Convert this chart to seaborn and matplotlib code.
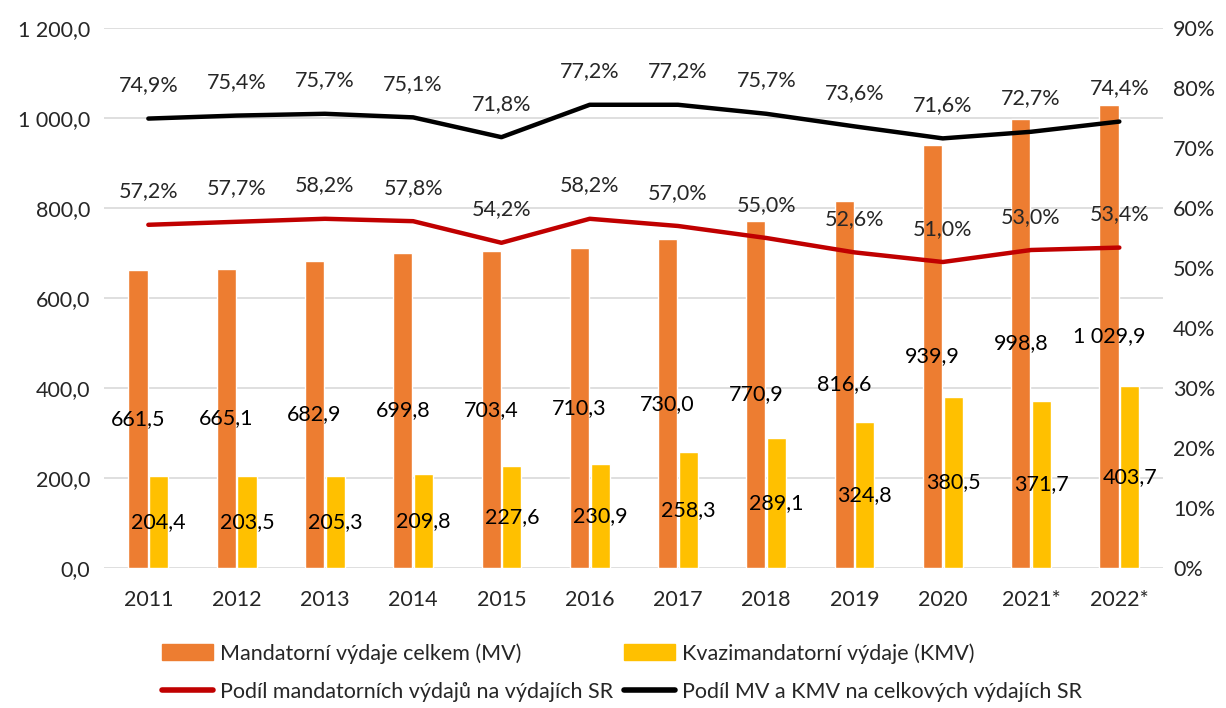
import numpy as np
import pandas as pd
import seaborn as sns
import matplotlib.pyplot as plt
from matplotlib.lines import Line2D
from matplotlib.patches import Patch
from matplotlib.ticker import FuncFormatter, MultipleLocator

roky = ['2011', '2012', '2013', '2014', '2015', '2016', '2017', '2018', '2019', '2020', '2021*', '2022*']
mv = [661.5, 665.1, 682.9, 699.8, 703.4, 710.3, 730.0, 770.9, 816.6, 939.9, 998.8, 1029.9]
kmv = [204.4, 203.5, 205.3, 209.8, 227.6, 230.9, 258.3, 289.1, 324.8, 380.5, 371.7, 403.7]
podil_mv = [57.2, 57.7, 58.2, 57.8, 54.2, 58.2, 57.0, 55.0, 52.6, 51.0, 53.0, 53.4]
podil_mv_kmv = [74.9, 75.4, 75.7, 75.1, 71.8, 77.2, 77.2, 75.7, 73.6, 71.6, 72.7, 74.4]

nazev_mv = 'Mandatorní výdaje celkem (MV)'
nazev_kmv = 'Kvazimandatorní výdaje (KMV)'
nazev_podil = 'Podíl mandatorních výdajů na výdajích SR'
nazev_podil2 = 'Podíl MV a KMV na celkových výdajích SR'

ORANZOVA = '#ED7D31'
ZLUTA = '#FFC000'
CERVENA = '#C00000'
FS = 15.5

sns.set_style('white')
plt.rcParams['font.family'] = ['Lato', 'DejaVu Sans']
plt.rcParams['font.size'] = FS

dados = pd.DataFrame({
    'rok': roky * 2,
    'hodnota': mv + kmv,
    'serie': [nazev_mv] * len(roky) + [nazev_kmv] * len(roky),
})

def cislo(v, dec=1):
    s = f'{v:,.{dec}f}'
    return s.replace(',', ' ').replace('.', ',')

fig = plt.figure(figsize=(12.26, 7.08), dpi=100)
ax = fig.add_axes([0.085, 0.1977, 0.864, 0.7628])

sns.barplot(data=dados, x='rok', y='hodnota', hue='serie', palette=[ORANZOVA, ZLUTA],
            width=0.47, gap=0.08, ax=ax, legend=False, saturation=1)

for cont, vals in zip(ax.containers, [mv, kmv]):
    ax.bar_label(cont, labels=[cislo(v) for v in vals], label_type='center', fontsize=FS, color='black')

ax.set_ylim(0, 1200)
ax.set_xlim(-0.5, len(roky) - 0.5)
ax.yaxis.set_major_locator(MultipleLocator(200))
ax.yaxis.set_major_formatter(FuncFormatter(lambda v, p: cislo(v)))
ax.grid(axis='y', color='#D9D9D9', linewidth=1.2)
ax.set_axisbelow(True)
ax.set_xlabel('')
ax.set_ylabel('')
for s in ax.spines.values():
    s.set_visible(False)
ax.tick_params(axis='both', length=0)
ax.tick_params(axis='x', pad=16)
ax.tick_params(axis='y', pad=10)

ax2 = ax.twinx()
x = np.arange(len(roky))
sns.lineplot(x=x, y=podil_mv, color=CERVENA, linewidth=3.2, ax=ax2)
sns.lineplot(x=x, y=podil_mv_kmv, color='black', linewidth=3.2, ax=ax2)
for serie in [podil_mv, podil_mv_kmv]:
    for i, v in enumerate(serie):
        ax2.annotate(cislo(v) + '%', (i, v), xytext=(0, 24), textcoords='offset points',
                     ha='center', va='center', fontsize=FS)
ax2.set_ylim(0, 90)
ax2.yaxis.set_major_locator(MultipleLocator(10))
ax2.yaxis.set_major_formatter(FuncFormatter(lambda v, p: f'{v:.0f}%'))
for s in ax2.spines.values():
    s.set_visible(False)
ax2.tick_params(axis='y', length=0, pad=7)
ax2.grid(False)

handles = [
    Patch(color=ORANZOVA, label=nazev_mv),
    Line2D([], [], color=CERVENA, linewidth=4, label=nazev_podil),
    Patch(color=ZLUTA, label=nazev_kmv),
    Line2D([], [], color='black', linewidth=4, label=nazev_podil2),
]
fig.legend(handles=handles, ncol=2, loc='center', bbox_to_anchor=(0.507, 0.05), frameon=False,
           handlelength=2.4, handleheight=0.75, handletextpad=0.3, columnspacing=0.5,
           labelspacing=0.85, fontsize=FS)

fig.savefig('out.png', dpi=100)
